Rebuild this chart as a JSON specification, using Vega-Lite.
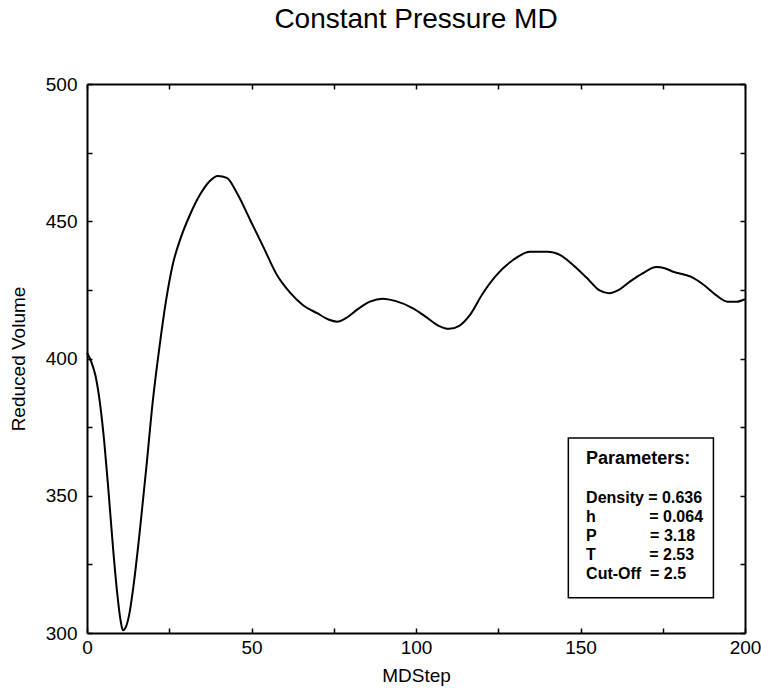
{
  "$schema": "https://vega.github.io/schema/vega-lite/v6.json",
  "width": 658,
  "height": 549,
  "autosize": {"type": "none"},
  "padding": {"left": 87, "top": 84, "right": 16, "bottom": 56},
  "background": "white",
  "title": {"text": "Constant Pressure MD", "fontSize": 28, "font": "Liberation Sans", "fontWeight": "normal", "color": "black", "anchor": "middle", "frame": "group", "baseline": "alphabetic", "offset": 19},
  "config": {
    "view": {"stroke": null},
    "axis": {
      "domainColor": "black", "domainWidth": 2, "tickColor": "black", "tickWidth": 1.5, "tickSize": -5,
      "labelFont": "Liberation Sans", "labelFontSize": 19, "labelColor": "black",
      "titleFont": "Liberation Sans", "titleFontSize": 19, "titleFontWeight": "normal", "titleColor": "black",
      "grid": false, "labelFlush": false, "labelOverlap": false, "labelBound": false
    }
  },
  "datasets": {
    "curve": [
      {"step": 0, "vol": 402.1}, {"step": 1.3, "vol": 398.8}, {"step": 2.6, "vol": 393.6}, {"step": 4.0, "vol": 383.2},
      {"step": 5.3, "vol": 368.9}, {"step": 6.6, "vol": 350.7}, {"step": 7.9, "vol": 331.2}, {"step": 9.2, "vol": 314.3},
      {"step": 10.3, "vol": 303.9}, {"step": 10.9, "vol": 301.0}, {"step": 11.7, "vol": 301.9}, {"step": 12.8, "vol": 306.5},
      {"step": 14.1, "vol": 316.9}, {"step": 16.1, "vol": 337.7}, {"step": 18.1, "vol": 361.1}, {"step": 20.0, "vol": 384.5},
      {"step": 22.0, "vol": 404.0}, {"step": 24.0, "vol": 420.9}, {"step": 26.0, "vol": 433.9}, {"step": 28.6, "vol": 444.3},
      {"step": 31.2, "vol": 452.1}, {"step": 34.5, "vol": 460.0}, {"step": 37.2, "vol": 464.5}, {"step": 39.8, "vol": 466.5},
      {"step": 42.5, "vol": 465.8}, {"step": 45.7, "vol": 460.0}, {"step": 49.7, "vol": 450.2}, {"step": 53.7, "vol": 440.4},
      {"step": 57.6, "vol": 430.7}, {"step": 61.6, "vol": 424.2}, {"step": 65.5, "vol": 419.6}, {"step": 70.1, "vol": 416.4},
      {"step": 73.4, "vol": 414.2}, {"step": 76.1, "vol": 413.4}, {"step": 78.7, "vol": 414.7}, {"step": 82.0, "vol": 417.7},
      {"step": 86.0, "vol": 420.7}, {"step": 89.9, "vol": 421.8}, {"step": 93.9, "vol": 420.9}, {"step": 99.1, "vol": 418.3},
      {"step": 103.1, "vol": 415.1}, {"step": 107.1, "vol": 411.8}, {"step": 110.0, "vol": 410.8}, {"step": 113.0, "vol": 411.8},
      {"step": 116.3, "vol": 415.7}, {"step": 120.2, "vol": 423.5}, {"step": 124.2, "vol": 430.0}, {"step": 129.5, "vol": 435.9},
      {"step": 134.7, "vol": 438.9}, {"step": 140.0, "vol": 438.9}, {"step": 144.0, "vol": 437.6}, {"step": 147.9, "vol": 433.9},
      {"step": 151.9, "vol": 429.4}, {"step": 155.8, "vol": 424.8}, {"step": 158.7, "vol": 423.8}, {"step": 161.8, "vol": 425.1},
      {"step": 165.1, "vol": 428.1}, {"step": 169.0, "vol": 431.1}, {"step": 173.0, "vol": 433.3}, {"step": 175.6, "vol": 432.9},
      {"step": 178.2, "vol": 431.6}, {"step": 183.5, "vol": 429.8}, {"step": 187.5, "vol": 426.8}, {"step": 191.4, "vol": 422.9},
      {"step": 194.7, "vol": 420.7}, {"step": 197.4, "vol": 420.7}, {"step": 200, "vol": 421.6}
    ],
    "box": [{"x": 146.3, "x2": 190.4, "y": 371, "y2": 312.8}],
    "heading": [{"text": "Parameters:", "x": 151.7, "y": 361.5}],
    "params": [
      {"line": "Density = 0.636", "x": 151.7, "y": 347.4},
      {"line": "h\u00a0\u00a0\u00a0\u00a0\u00a0\u00a0\u00a0\u00a0\u00a0\u00a0\u00a0\u00a0= 0.064", "x": 151.7, "y": 340.5},
      {"line": "P\u00a0\u00a0\u00a0\u00a0\u00a0\u00a0\u00a0\u00a0\u00a0\u00a0\u00a0\u00a0= 3.18", "x": 151.7, "y": 333.5},
      {"line": "T\u00a0\u00a0\u00a0\u00a0\u00a0\u00a0\u00a0\u00a0\u00a0\u00a0\u00a0\u00a0= 2.53", "x": 151.7, "y": 326.6},
      {"line": "Cut-Off\u00a0\u00a0= 2.5", "x": 151.7, "y": 319.7}
    ]
  },
  "resolve": {"axis": {"x": "independent", "y": "independent"}},
  "layer": [
    {
      "data": {"name": "curve"},
      "mark": {"type": "line", "color": "black", "strokeWidth": 2, "interpolate": "monotone"},
      "encoding": {
        "x": {"field": "step", "type": "quantitative", "scale": {"domain": [0, 200], "nice": false, "zero": false},
          "axis": {"orient": "bottom", "values": [0, 25, 50, 75, 100, 125, 150, 175, 200], "labelExpr": "datum.value % 50 == 0 ? datum.label : ''", "labelPadding": 10, "title": "MDStep", "titlePadding": 9}},
        "y": {"field": "vol", "type": "quantitative", "scale": {"domain": [300, 500], "nice": false, "zero": false},
          "axis": {"orient": "left", "values": [300, 325, 350, 375, 400, 425, 450, 475, 500], "labelExpr": "datum.value % 50 == 0 ? datum.label : ''", "labelPadding": 15, "title": "Reduced Volume", "titlePadding": 17}}
      }
    },
    {
      "data": {"name": "box"},
      "mark": {"type": "rect", "fill": "white", "stroke": "black", "strokeWidth": 1.5},
      "encoding": {
        "x": {"field": "x", "type": "quantitative", "axis": {"orient": "top", "values": [0, 25, 50, 75, 100, 125, 150, 175, 200], "labels": false, "title": null}},
        "x2": {"field": "x2"},
        "y": {"field": "y", "type": "quantitative", "axis": {"orient": "right", "values": [300, 325, 350, 375, 400, 425, 450, 475, 500], "labels": false, "title": null}},
        "y2": {"field": "y2"}
      }
    },
    {
      "data": {"name": "heading"},
      "mark": {"type": "text", "align": "left", "baseline": "alphabetic", "font": "Liberation Sans", "fontWeight": "bold", "fontSize": 18, "color": "black"},
      "encoding": {
        "x": {"field": "x", "type": "quantitative", "axis": null},
        "y": {"field": "y", "type": "quantitative", "axis": null},
        "text": {"field": "text"}
      }
    },
    {
      "data": {"name": "params"},
      "mark": {"type": "text", "align": "left", "baseline": "alphabetic", "font": "Liberation Sans", "fontWeight": "bold", "fontSize": 16, "color": "black"},
      "encoding": {
        "x": {"field": "x", "type": "quantitative", "axis": null},
        "y": {"field": "y", "type": "quantitative", "axis": null},
        "text": {"field": "line"}
      }
    }
  ]
}
